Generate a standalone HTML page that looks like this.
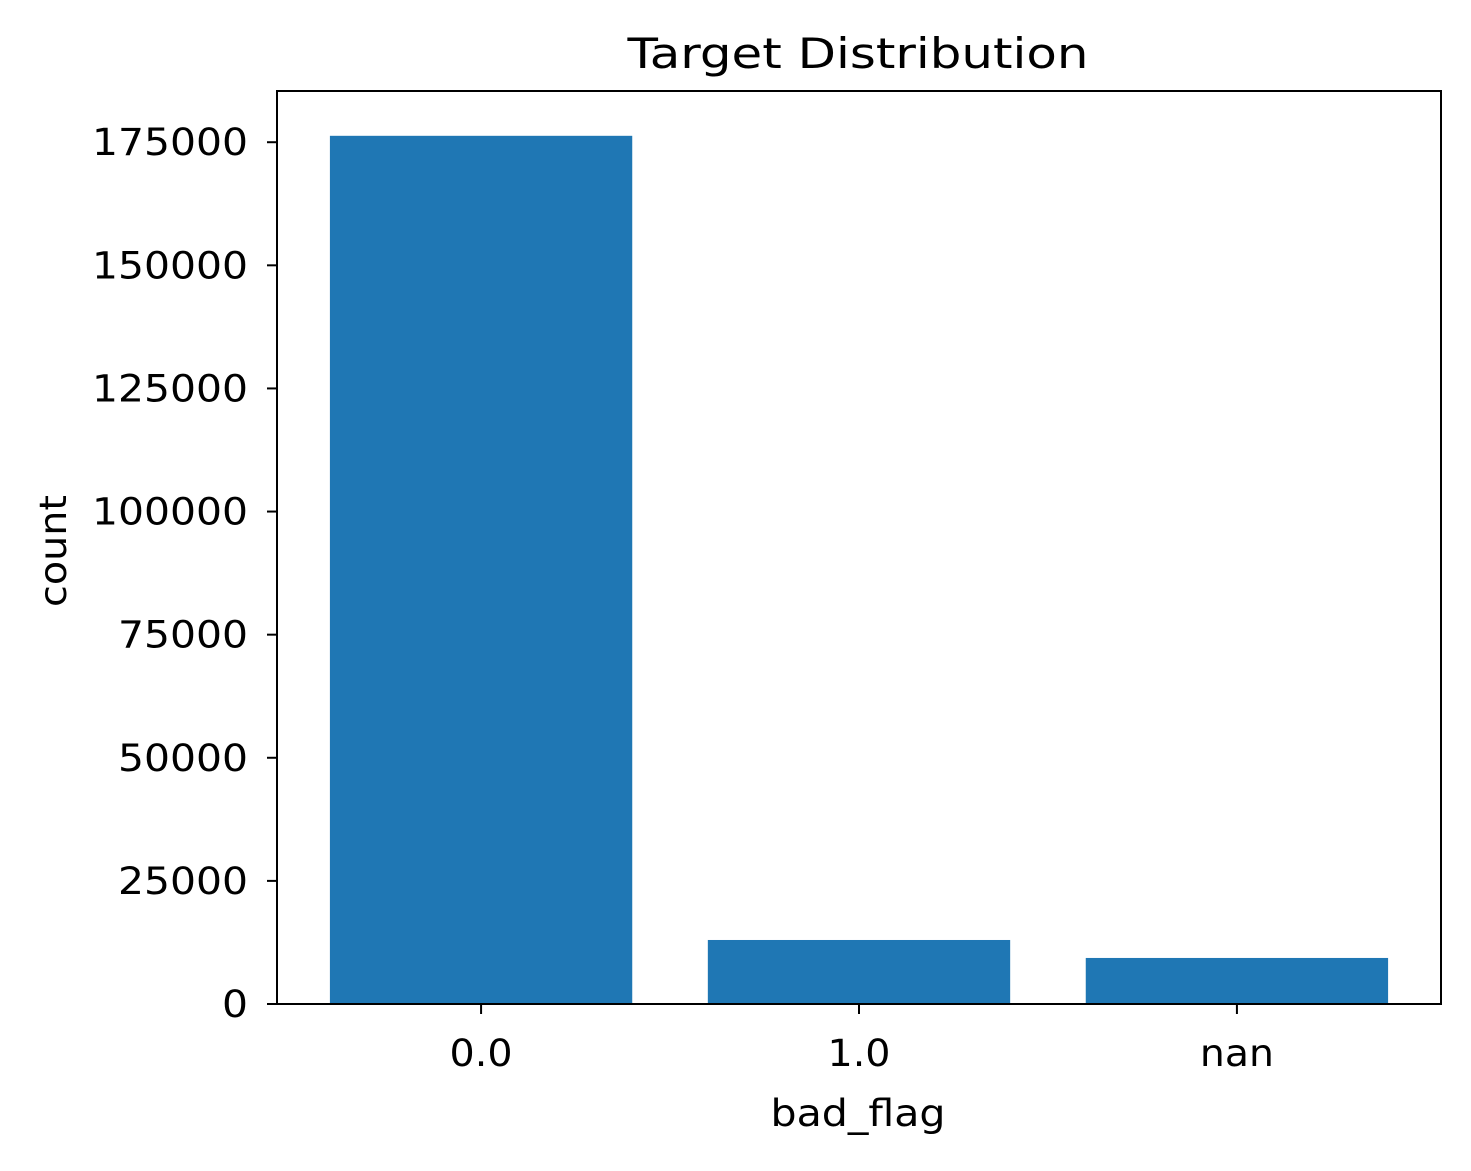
<!DOCTYPE html>
<html><head><meta charset="utf-8"><style>
html,body{margin:0;padding:0;background:#fff;}
svg text{font-family:"DejaVu Sans","Liberation Sans",sans-serif;fill:#000;}
</style></head><body>
<svg id="chart" width="1471" height="1166" xmlns="http://www.w3.org/2000/svg">
<rect width="1471" height="1166" fill="#fff"/>
<g id="bars"></g>
<g id="yticks"></g>
<g id="xticks"></g>
<rect x="277" y="91" width="1164" height="913" fill="none" stroke="#000" stroke-width="2"/>
<text x="858" y="68" font-size="42" text-anchor="middle" textLength="461" lengthAdjust="spacingAndGlyphs">Target Distribution</text>
<text x="858" y="1126" font-size="37" text-anchor="middle" textLength="175" lengthAdjust="spacingAndGlyphs">bad_flag</text>
<text x="0" y="0" font-size="37" text-anchor="middle" textLength="112" lengthAdjust="spacingAndGlyphs" transform="translate(66,551) rotate(-90)">count</text>
</svg>
<script>
const categories = ["0.0", "1.0", "nan"];
const counts = [176300, 13000, 9350];
const yTickValues = [0, 25000, 50000, 75000, 100000, 125000, 150000, 175000];

const L = 277, R = 1441, T = 91, B = 1004;
const xMin = -0.54, xMax = 2.54, yMax = 185400;
const NS = "http://www.w3.org/2000/svg";
function xs(v){ return L + (v - xMin) / (xMax - xMin) * (R - L); }
function ys(v){ return B - v / yMax * (B - T); }
const unit = xs(1) - xs(0);

const gb = document.getElementById('bars');
categories.forEach((c, i) => {
  const r = document.createElementNS(NS, 'rect');
  
  
  r.setAttribute('x', xs(i) - 0.4 * unit);
  r.setAttribute('width', 0.8 * unit);
  r.setAttribute('y', ys(counts[i]));
  r.setAttribute('height', B - ys(counts[i]));
  r.setAttribute('fill', '#1f77b4');
  gb.appendChild(r);
});

const gy = document.getElementById('yticks');
yTickValues.forEach(v => {
  const y = ys(v);
  const l = document.createElementNS(NS, 'line');
  
  
  l.setAttribute('x1', L - 10); l.setAttribute('x2', L);
  l.setAttribute('y1', y); l.setAttribute('y2', y);
  l.setAttribute('stroke', '#000'); l.setAttribute('stroke-width', '2');
  gy.appendChild(l);
  const t = document.createElementNS(NS, 'text');
  
  
  t.setAttribute('x', L - 29); t.setAttribute('y', y + 13);
  t.setAttribute('font-size', '37'); t.setAttribute('text-anchor', 'end');
  t.setAttribute('textLength', String(v).length * 26);
  t.setAttribute('lengthAdjust', 'spacingAndGlyphs');
  t.textContent = v;
  gy.appendChild(t);
});

const gx = document.getElementById('xticks');
categories.forEach((c, i) => {
  const x = xs(i);
  const l = document.createElementNS(NS, 'line');
  
  
  l.setAttribute('x1', x); l.setAttribute('x2', x);
  l.setAttribute('y1', B); l.setAttribute('y2', B + 10);
  l.setAttribute('stroke', '#000'); l.setAttribute('stroke-width', '2');
  gx.appendChild(l);
  const t = document.createElementNS(NS, 'text');
  
  
  t.setAttribute('x', x); t.setAttribute('y', 1066);
  t.setAttribute('font-size', '37'); t.setAttribute('text-anchor', 'middle');
  t.setAttribute('textLength', c === 'nan' ? 74 : 63);
  t.setAttribute('lengthAdjust', 'spacingAndGlyphs');
  t.textContent = c;
  gx.appendChild(t);
});
</script>
</body></html>
